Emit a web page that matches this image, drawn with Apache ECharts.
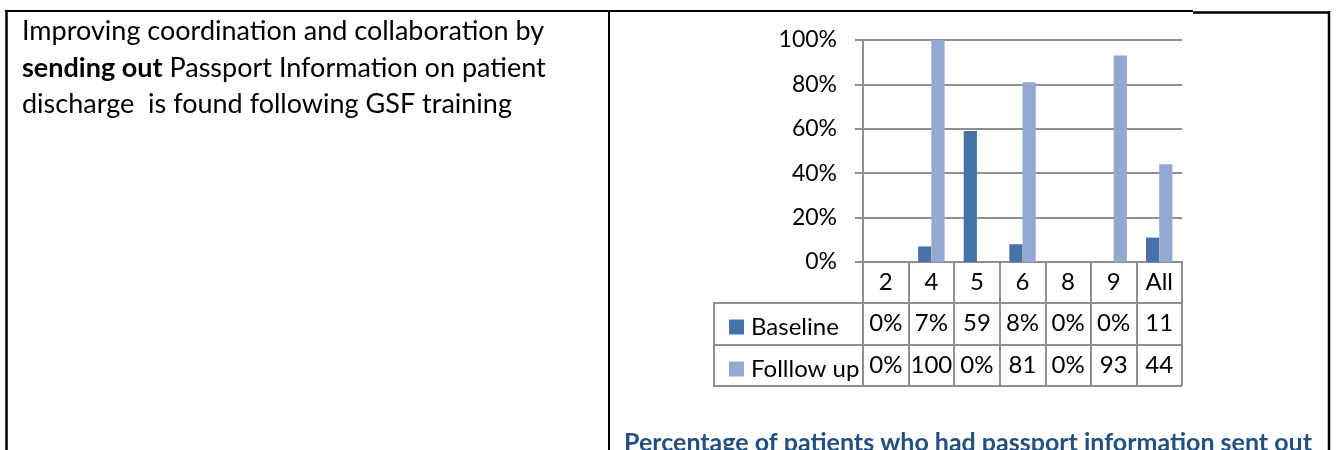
<!DOCTYPE html>
<html>
<head>
<meta charset="utf-8">
<script src="https://cdn.jsdelivr.net/npm/echarts@6/dist/echarts.min.js"></script>
<style>
  html, body { margin: 0; padding: 0; background: #fff; }
  #main { width: 1336px; height: 450px; }
</style>
</head>
<body>
<div id="main"></div>
<script>
var categories = ['2', '4', '5', '6', '8', '9', 'All'];
var baseline = [0, 7, 59, 8, 0, 0, 11];
var followUp = [0, 100, 0, 81, 0, 93, 44];
var yTicks = [0, 20, 40, 60, 80, 100];

var FONT = 'Lato';
var GRID = '#8f8f8f';
var TABLE_FS = 24;

// table cell text: Excel clips the % sign when the cell is too narrow
function cellText(v) {
  return v < 10 ? v + '%' : String(v);
}

var chart = echarts.init(document.getElementById('main'));

function rowAxis(values, offset) {
  return {
    type: 'category',
    gridIndex: 0,
    position: 'bottom',
    offset: offset,
    data: values.map(cellText),
    axisLine: { show: false },
    axisTick: { show: false },
    axisLabel: { interval: 0, margin: 8, color: '#000', fontSize: TABLE_FS, fontFamily: FONT }
  };
}

function legendRow(name, top) {
  return {
    data: [name],
    orient: 'vertical',
    left: 724,
    top: top,
    icon: 'rect',
    itemWidth: 15,
    itemHeight: 15,
    selectedMode: false,
    textStyle: { fontSize: TABLE_FS, fontFamily: FONT, color: '#000', lineHeight: 26, padding: [0, 0, 0, 2] }
  };
}

var option = {
  animation: false,
  textStyle: { fontFamily: FONT },
  grid: { left: 863, right: 154, top: 40, bottom: 188 },
  legend: [legendRow('Baseline', 309), legendRow('Folllow up', 351)],
  xAxis: [{
    type: 'category',
    data: categories,
    axisLine: { show: true, lineStyle: { color: GRID, width: 2 } },
    axisTick: { show: true, interval: 0, length: 124, lineStyle: { color: GRID, width: 2 } },
    axisLabel: { interval: 0, margin: 8, color: '#000', fontSize: TABLE_FS, fontFamily: FONT }
  },
    rowAxis(baseline, 41),
    rowAxis(followUp, 83)
  ],
  yAxis: {
    type: 'value',
    min: yTicks[0],
    max: yTicks[yTicks.length - 1],
    interval: 20,
    axisLine: { show: true, lineStyle: { color: GRID, width: 2 } },
    axisTick: { show: true, length: 8, lineStyle: { color: GRID, width: 2 } },
    splitLine: { show: true, lineStyle: { color: GRID, width: 2 } },
    axisLabel: { margin: 26, color: '#000', fontSize: 23, fontFamily: FONT, formatter: '{value}%' }
  },
  series: [{
    name: 'Baseline',
    type: 'bar',
    data: baseline,
    barGap: '0%',
    barCategoryGap: '42%',
    itemStyle: { color: '#4672a8' }
  }, {
    name: 'Folllow up',
    type: 'bar',
    data: followUp,
    barGap: '0%',
    barCategoryGap: '42%',
    itemStyle: { color: '#94a9d1' }
  }],
  graphic: [
    // page table borders
    { type: 'line', shape: { x1: 5, y1: 11, x2: 1193, y2: 11 }, style: { stroke: '#000', lineWidth: 2 } },
    { type: 'line', shape: { x1: 1193, y1: 12.5, x2: 1330, y2: 12.5 }, style: { stroke: '#000', lineWidth: 2.5 } },
    { type: 'line', shape: { x1: 6.5, y1: 10, x2: 6.5, y2: 450 }, style: { stroke: '#000', lineWidth: 2.5 } },
    { type: 'line', shape: { x1: 609, y1: 10, x2: 609, y2: 450 }, style: { stroke: '#000', lineWidth: 2 } },
    { type: 'line', shape: { x1: 1329, y1: 11, x2: 1329, y2: 450 }, style: { stroke: '#000', lineWidth: 2.5 } },
    // data table rule lines
    { type: 'line', shape: { x1: 714, y1: 303, x2: 1182, y2: 303 }, style: { stroke: GRID, lineWidth: 2 } },
    { type: 'line', shape: { x1: 714, y1: 345, x2: 1182, y2: 345 }, style: { stroke: GRID, lineWidth: 2 } },
    { type: 'line', shape: { x1: 714, y1: 386, x2: 1182, y2: 386 }, style: { stroke: GRID, lineWidth: 2 } },
    { type: 'line', shape: { x1: 714, y1: 302, x2: 714, y2: 387 }, style: { stroke: GRID, lineWidth: 2 } },
    // left cell text
    {
      type: 'text',
      left: 22,
      top: 18,
      style: {
        text: '{n|Improving coordination and collaboration by}\n{b|sending out}{n| Passport Information on patient}\n{n|discharge  is found following GSF training}',
        rich: {
          n: { fontSize: 27, fontFamily: FONT, color: '#000', lineHeight: 36.5 },
          b: { fontSize: 27, fontFamily: FONT, fontWeight: 'bold', color: '#000', lineHeight: 36.5 }
        }
      }
    },
    // caption
    {
      type: 'text',
      x: 624,
      y: 443,
      style: {
        text: 'Percentage of patients who had passport information sent out',
        fontSize: 25,
        fontWeight: 'bold',
        fontFamily: FONT,
        fill: '#24507f',
        verticalAlign: 'middle'
      }
    }
  ]
};

chart.setOption(option);
</script>
</body>
</html>
